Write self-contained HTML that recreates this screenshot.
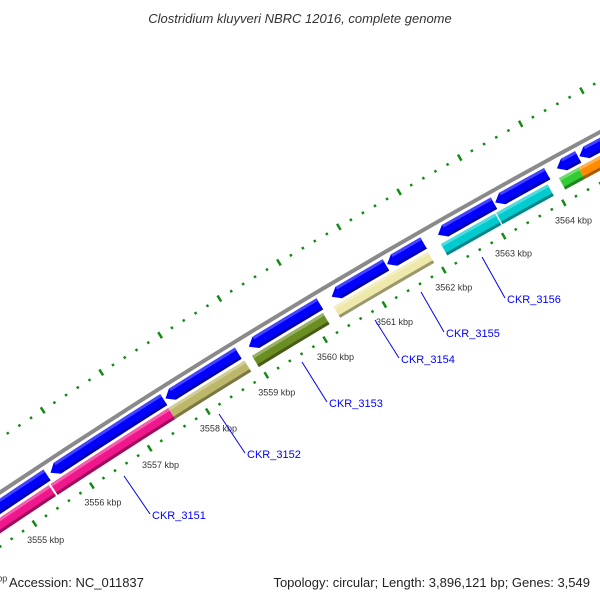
<!DOCTYPE html>
<html><head><meta charset="utf-8"><style>
html,body{margin:0;padding:0;background:#fff;}
svg{display:block;font-family:"Liberation Sans",sans-serif;}
</style></head><body>
<svg id="chart" width="600" height="600" viewBox="0 0 600 600" xmlns="http://www.w3.org/2000/svg">
<text x="300" y="23" text-anchor="middle" font-size="13" font-style="italic" fill="#333">Clostridium kluyveri NBRC 12016, complete genome</text>
<g id="map"></g>
<text x="9" y="587" font-size="13" fill="#222">Accession: NC_011837</text>
<text x="590" y="587" text-anchor="end" font-size="13" fill="#222">Topology: circular; Length: 3,896,121 bp; Genes: 3,549</text>
</svg>
<script>
// data (kbp)
const tickKbp = [3553,3554,3555,3556,3557,3558,3559,3560,3561,3562,3563,3564,3565,3566];
const tickLabels = ["3553 kbp","3554 kbp","3555 kbp","3556 kbp","3557 kbp","3558 kbp","3559 kbp","3560 kbp","3561 kbp","3562 kbp","3563 kbp","3564 kbp","3565 kbp","3566 kbp"];
const innerStarts = [3553.5,3555.51,3557.54,3558.97,3560.35,3562.15,3563.07,3564.11,3564.43];
const innerEnds   = [3555.48,3557.54,3558.84,3560.17,3561.93,3563.05,3563.92,3564.43,3566.5];
const innerColors = ["#f0168c","#f0168c","#bdb76b","#6b8e23","#eee8aa","#00ccd0","#00ccd0","#33cc33","#ff8c00"];
const outerStarts = [3553.0,3555.6,3557.58,3559.0,3560.40,3561.33,3562.18,3563.13,3564.15,3564.52];
const outerEnds   = [3555.54,3557.55,3558.82,3560.2,3561.31,3561.94,3563.11,3563.99,3564.50,3566.5];
const geneNames = ["CKR_3151","CKR_3152","CKR_3153","CKR_3154","CKR_3155","CKR_3156"];
const nameX = [152,247,329,401,446,507];
const nameY = [519,458,407,363,337,303];
const leadX1 = [124,219,302,375,421,482];
const leadY1 = [476,414,362,320,292,257];

const NS="http://www.w3.org/2000/svg";
const g=document.getElementById('map');
const CX=3985, CY=6447, R=7100;
const PHI0=236.30*Math.PI/180, DPHI=0.5536*Math.PI/180;
function ang(k){return PHI0+(k-3555)*DPHI;}
function pt(k,r){const a=ang(k);return [CX+r*Math.cos(a),CY+r*Math.sin(a)];}
function mk(tag,attrs){const e=document.createElementNS(NS,tag);for(const k in attrs)e.setAttribute(k,attrs[k]);return e;}
function band(k1,k2,r1,r2,arrow){
  const A=pt(k1,r2),B=pt(k2,r2),C=pt(k2,r1),D=pt(k1,r1);
  let d;
  if(arrow){
    const kt=k1+8/(R*DPHI);
    const A2=pt(kt,r2),D2=pt(kt,r1),T=pt(k1,(r1+r2)/2);
    d=`M${T[0]},${T[1]} L${A2[0]},${A2[1]} A${r2},${r2} 0 0 1 ${B[0]},${B[1]} L${C[0]},${C[1]} A${r1},${r1} 0 0 0 ${D2[0]},${D2[1]} Z`;
  } else {
    d=`M${A[0]},${A[1]} A${r2},${r2} 0 0 1 ${B[0]},${B[1]} L${C[0]},${C[1]} A${r1},${r1} 0 0 0 ${D[0]},${D[1]} Z`;
  }
  return d;
}
function shade(c,f){const n=parseInt(c.slice(1),16);let r=n>>16,gg=(n>>8)&255,b=n&255;
  const m=x=>Math.max(0,Math.min(255,Math.round(f>1?x+(255-x)*(f-1):x*f)));
  return `rgb(${m(r)},${m(gg)},${m(b)})`;}

// backbone
{const A=pt(3552,R+65),B=pt(3567,R+65);
 const p=mk('path',{d:`M${A[0]},${A[1]} A${R+65},${R+65} 0 0 1 ${B[0]},${B[1]}`,stroke:'#8a8a8a','stroke-width':4,fill:'none'});
 
 
 g.appendChild(p);}

// ticks
for(let i=0;i<tickKbp.length;i++){
  for(let j=0;j<5;j++){
    const k=tickKbp[i]+j*0.2;
    const major=j===0;
    const len=major?7:2.5;
    for(const base of [R+20,R+110]){
      const a=pt(k,base-len/2),b=pt(k,base+len/2);
      const l=mk('line',{x1:a[0],y1:a[1],x2:b[0],y2:b[1],stroke:'#138a13','stroke-width':2.5});
      
      
      g.appendChild(l);
    }
  }
  const lp=pt(tickKbp[i],R);
  const t=mk('text',{x:lp[0],y:lp[1]+3,'text-anchor':'middle','font-size':9,fill:'#333'});
  t.textContent=tickLabels[i];
  
  
  g.appendChild(t);
}

// inner genes
for(let i=0;i<innerStarts.length;i++){
  const c=innerColors[i];
  const p=mk('path',{d:band(innerStarts[i],innerEnds[i],R+31,R+44,false),fill:c});
  
  
  g.appendChild(p);
  const hi=mk('path',{d:band(innerStarts[i],innerEnds[i],R+41,R+44,false),fill:shade(c,1.3)});
  
  
  g.appendChild(hi);
  const lo=mk('path',{d:band(innerStarts[i],innerEnds[i],R+31,R+34,false),fill:shade(c,0.65)});
  
  
  g.appendChild(lo);
}
// outer genes (reverse strand)
for(let i=0;i<outerStarts.length;i++){
  const p=mk('path',{d:band(outerStarts[i],outerEnds[i],R+47,R+60,true),fill:'#0000ff'});
  
  
  g.appendChild(p);
  const hi=mk('path',{d:band(outerStarts[i]+0.12,outerEnds[i],R+57,R+60,false),fill:'#4444ff'});
  
  
  g.appendChild(hi);
  const lo=mk('path',{d:band(outerStarts[i]+0.12,outerEnds[i],R+47,R+50,false),fill:'#0000b0'});
  
  
  g.appendChild(lo);
}
// gene labels
for(let i=0;i<geneNames.length;i++){
  const l=mk('line',{x1:leadX1[i],y1:leadY1[i],x2:nameX[i]-2,y2:nameY[i]-5,stroke:'#0000ff','stroke-width':1});
  
  
  g.appendChild(l);
  const t=mk('text',{x:nameX[i],y:nameY[i],'font-size':11,fill:'#0000ff'});
  t.textContent=geneNames[i];
  
  
  g.appendChild(t);
}
</script>
</body></html>
